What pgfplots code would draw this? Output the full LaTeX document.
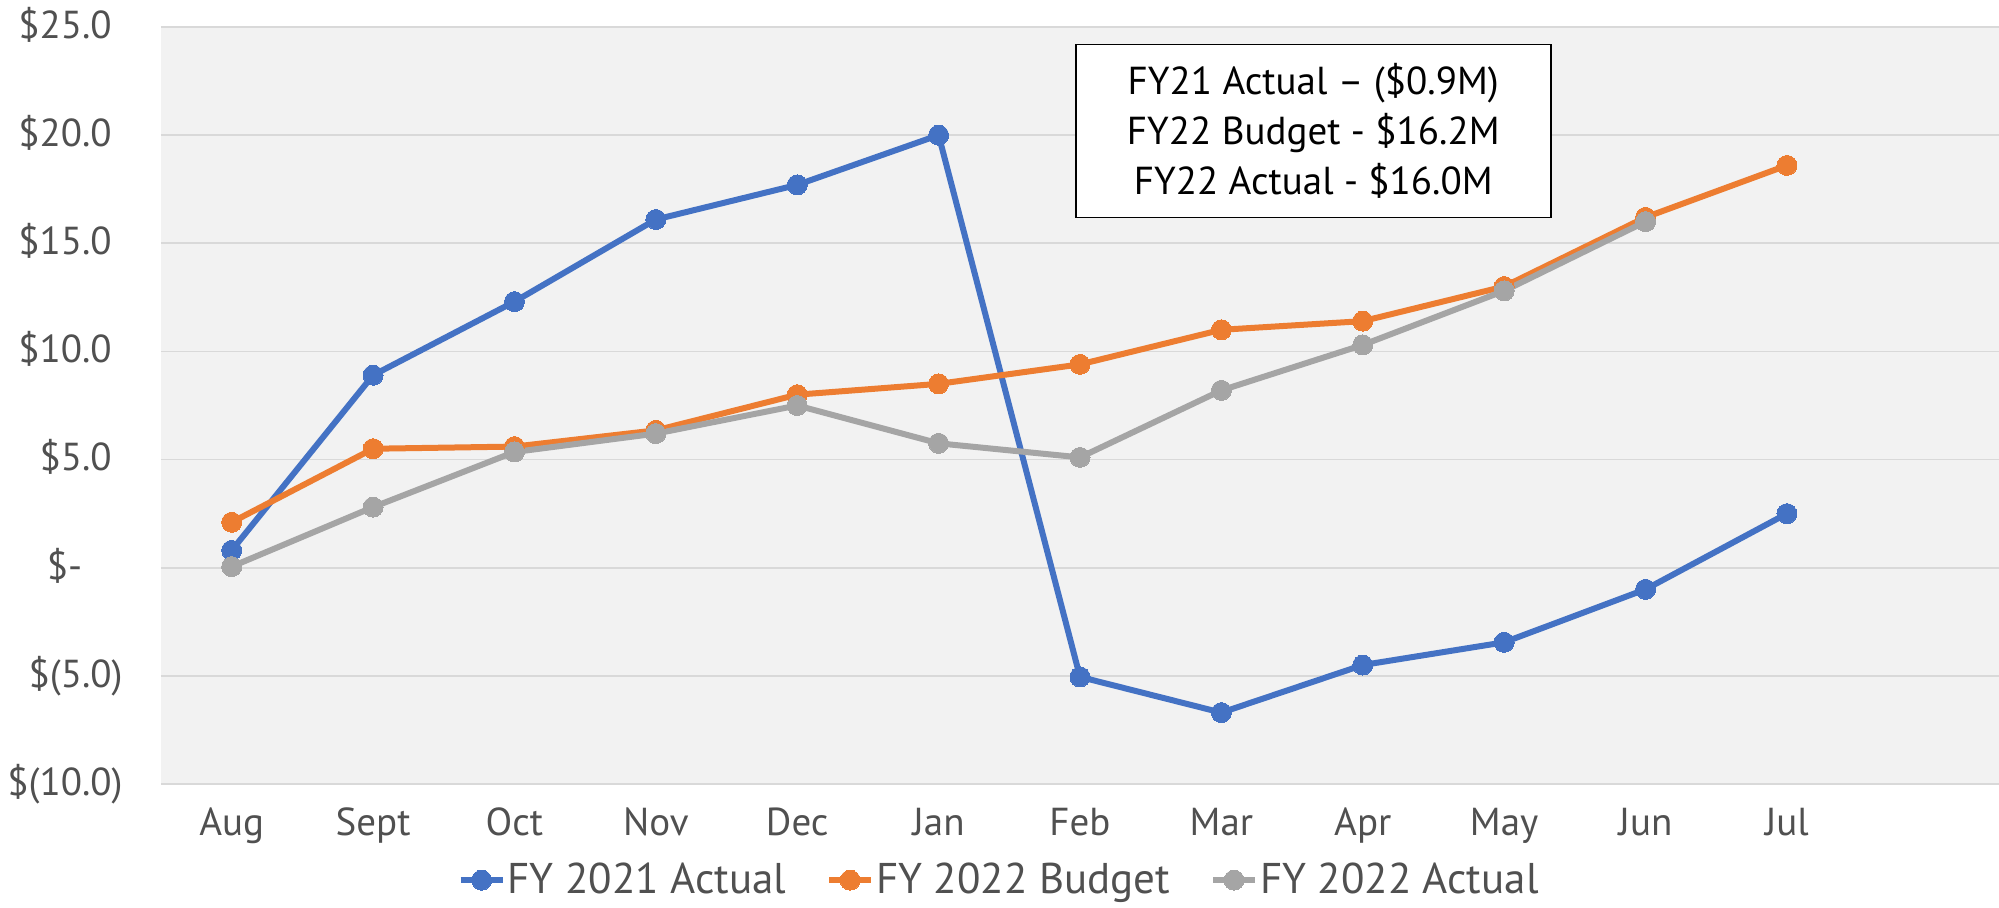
\documentclass[border=0pt]{standalone}
\usepackage{pgfplots}
\pgfplotsset{compat=1.18}
\usepackage{fontspec}
\setmainfont{PT Sans}
\definecolor{cblue}{HTML}{4472C4}
\definecolor{corange}{HTML}{ED7D31}
\definecolor{cgray}{HTML}{A5A5A5}
\definecolor{bgcol}{HTML}{F2F2F2}
\definecolor{gridcol}{HTML}{D9D9D9}
\definecolor{txtcol}{HTML}{505050}
\begin{document}
\begin{tikzpicture}
\useasboundingbox (-80.5pt,-62pt) rectangle (919pt,392pt);
\begin{axis}[
  scale only axis,
  width=919pt, height=378.5pt,
  xmin=-0.5, xmax=12.5,
  ymin=-10, ymax=25,
  xtick={0,...,11},
  xticklabels={Aug,Sept,Oct,Nov,Dec,Jan,Feb,Mar,Apr,May,Jun,Jul},
  ytick={-10,-5,0,5,10,15,20,25},
  yticklabels={\$(10.0),\$(5.0),\$-\phantom{0.)},\$5.0\phantom{)},\$10.0\phantom{)},\$15.0\phantom{)},\$20.0\phantom{)},\$25.0\phantom{)}},
  major tick length=0pt,
  axis line style={draw=none},
  axis background/.style={fill=bgcol},
  ymajorgrids, grid style={gridcol, line width=0.8pt},
  tick label style={font=\fontsize{19.5}{22}\selectfont, text=txtcol},
  yticklabel style={anchor=east, inner sep=0pt, xshift=-19pt},
  xticklabel style={anchor=base, inner sep=0pt, yshift=-26pt},
  legend style={at={(0.456,-0.127)}, anchor=center, draw=none, fill=none,
    font=\fontsize{21.5}{24}\selectfont, text=txtcol,
    legend columns=3, /tikz/every even column/.append style={column sep=19pt},
    nodes={inner sep=1pt}},
  legend image code/.code={\draw[mark repeat=2,mark phase=2] plot coordinates {(0pt,0pt) (10.5pt,0pt) (21pt,0pt)};},
  every axis plot/.append style={line width=3pt, mark=*, mark size=5pt},
]
\addplot[cblue, mark options={fill=cblue, draw=cblue, line width=0pt}] coordinates {
(0,0.8) (1,8.9) (2,12.3) (3,16.1) (4,17.7) (5,20.0) (6,-5.05) (7,-6.7) (8,-4.5) (9,-3.45) (10,-1.0) (11,2.5)};
\addlegendentry{FY 2021 Actual}
\addplot[corange, mark options={fill=corange, draw=corange, line width=0pt}] coordinates {
(0,2.1) (1,5.5) (2,5.6) (3,6.35) (4,8.0) (5,8.5) (6,9.4) (7,11.0) (8,11.4) (9,13.0) (10,16.2) (11,18.6)};
\addlegendentry{FY 2022 Budget}
\addplot[cgray, mark options={fill=cgray, draw=cgray, line width=0pt}] coordinates {
(0,0.05) (1,2.8) (2,5.35) (3,6.2) (4,7.5) (5,5.75) (6,5.1) (7,8.2) (8,10.3) (9,12.8) (10,16.0)};
\addlegendentry{FY 2022 Actual}
\node[draw=black, line width=0.8pt, fill=white, align=center, minimum width=237.5pt, minimum height=86.5pt,
  font=\fontsize{19.5}{25}\selectfont, text=black] at (axis cs:7.65,20.2)
  {FY21 Actual – (\$0.9M)\\FY22 Budget - \$16.2M\\FY22 Actual - \$16.0M};
\end{axis}
\end{tikzpicture}
\end{document}
